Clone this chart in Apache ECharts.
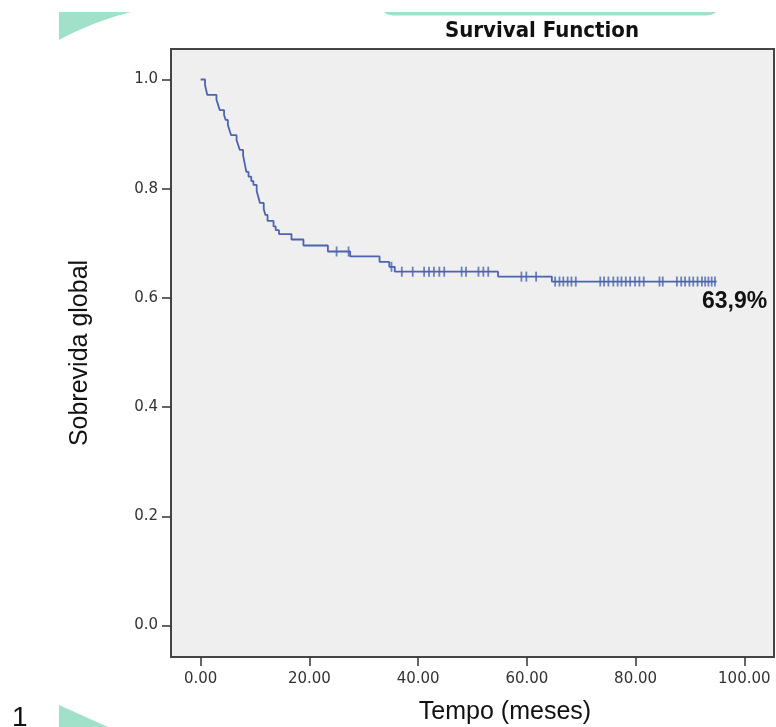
<!DOCTYPE html>
<html>
<head>
<meta charset="utf-8">
<script src="https://cdn.jsdelivr.net/npm/echarts@6/dist/echarts.min.js"></script>
<style>
html,body{margin:0;padding:0;background:#fff;}
#chart{width:776px;height:727px;}
</style>
</head>
<body>
<div id="chart"></div>
<script>
// ---- data ----
const xTicks = [0, 20, 40, 60, 80, 100];
const yTicks = [0, 0.2, 0.4, 0.6, 0.8, 1.0];
const eventTimes = [0.8, 1.0, 1.2, 2.9, 3.2, 3.5, 4.3, 4.6, 5.0, 5.3, 5.6, 6.6, 6.9, 7.2, 7.8, 8.0, 8.2, 8.4, 8.8, 9.3, 9.7, 10.3, 10.6, 10.9, 11.6, 11.9, 12.3, 13.4, 13.8, 14.4, 16.7, 18.9, 23.4, 27.5, 32.9, 34.7, 35.7, 54.7, 64.6];
const survival   = [0.990, 0.981, 0.972, 0.963, 0.954, 0.944, 0.935, 0.926, 0.917, 0.907, 0.898, 0.889, 0.880, 0.871, 0.861, 0.851, 0.841, 0.831, 0.822, 0.814, 0.807, 0.796, 0.785, 0.774, 0.763, 0.752, 0.741, 0.731, 0.724, 0.717, 0.707, 0.696, 0.685, 0.676, 0.666, 0.657, 0.648, 0.639, 0.630];
const censorTimes = [25.0, 27.2, 35.1, 37.0, 39.0, 41.1, 42.0, 42.9, 43.9, 44.8, 48.0, 48.8, 51.1, 52.0, 52.9, 59.0, 59.9, 61.7,
  65.2, 66.0, 66.7, 67.5, 68.2, 69.0, 73.5, 74.2, 75.0, 75.9, 76.7, 77.4, 78.2, 79.0, 79.9, 80.7, 81.5, 84.4, 85.0,
  87.6, 88.4, 89.1, 89.9, 90.6, 91.4, 92.2, 92.8, 93.4, 94.0, 94.6];
const followUpEnd = 94.9;
const annotationText = '63,9%';
const titleText = 'Survival Function';
const xName = 'Tempo (meses)';
const yName = 'Sobrevida global';
const slideNumber = '1';

// ---- build KM step path from the data ----
function survAt(t) {
  let s = 1;
  for (let i = 0; i < eventTimes.length; i++) { if (eventTimes[i] <= t) s = survival[i]; }
  return s;
}
const stepPts = [[0, 1]];
let prev = 1;
for (let i = 0; i < eventTimes.length; i++) {
  stepPts.push([eventTimes[i], prev]);
  stepPts.push([eventTimes[i], survival[i]]);
  prev = survival[i];
}
stepPts.push([followUpEnd, prev]);
const censorPts = censorTimes.map(t => [t, survAt(t)]);

// decorative slide shapes (quadratic curve sampled into polygon points)
function quad(p0, c, p1, n) {
  const out = [];
  for (let i = 0; i <= n; i++) {
    const u = i / n;
    out.push([(1-u)*(1-u)*p0[0] + 2*(1-u)*u*c[0] + u*u*p1[0], (1-u)*(1-u)*p0[1] + 2*(1-u)*u*c[1] + u*u*p1[1]]);
  }
  return out;
}
const cornerShape = [[59, 12]].concat(quad([131, 12], [92, 22], [59, 40], 24));
const stripShape = [[384, 12], [716, 12]].concat(quad([716, 12], [713, 15.5], [704, 15.5], 6), quad([396, 15.5], [387, 15.5], [384, 12], 6));

const blue = '#4C63B0';
const mint = '#A2E1C9';
const chart = echarts.init(document.getElementById('chart'), null, {renderer: 'canvas'});
chart.setOption({
  animation: false,
  backgroundColor: '#ffffff',
  grid: {left: 171, right: 2, top: 49, bottom: 70, show: true, backgroundColor: '#EFEFEF', borderColor: '#454545', borderWidth: 2},
  xAxis: {
    type: 'value', min: -5.46, max: 105.46,
    splitLine: {show: false},
    axisLine: {show: false, onZero: false},
    axisTick: {show: true, customValues: xTicks, length: 9, lineStyle: {color: '#333', width: 1.5}},
    axisLabel: {customValues: xTicks, formatter: v => v.toFixed(2), fontFamily: 'DejaVu Sans', fontSize: 15, color: '#333', margin: 15}
  },
  yAxis: {
    type: 'value', min: -0.0577, max: 1.0559,
    splitLine: {show: false},
    axisLine: {show: false, onZero: false},
    axisTick: {show: true, customValues: yTicks, length: 9, lineStyle: {color: '#333', width: 1.5}},
    axisLabel: {customValues: yTicks, formatter: v => v.toFixed(1), fontFamily: 'DejaVu Sans', fontSize: 15, color: '#333', margin: 13},
    name: yName, nameLocation: 'middle', nameRotate: 90, nameGap: 78,
    nameTextStyle: {fontFamily: 'Liberation Sans', fontSize: 25, color: '#111'}
  },
  series: [
    {type: 'line', data: stepPts, symbol: 'none', showSymbol: false, lineStyle: {color: blue, width: 1.8}, z: 2},
    {type: 'scatter', data: censorPts, symbol: 'rect', symbolSize: [1.8, 10], itemStyle: {color: blue}, z: 3}
  ],
  graphic: [
    {type: 'polygon', shape: {points: cornerShape}, style: {fill: mint}},
    {type: 'polygon', shape: {points: stripShape}, style: {fill: mint}},
    {type: 'polygon', shape: {points: [[59, 705], [108, 727], [59, 727]]}, style: {fill: mint}},
    {type: 'text', x: 542, y: 31, style: {text: titleText, font: 'bold 22px "DejaVu Sans Condensed", "DejaVu Sans", sans-serif', fill: '#111', align: 'center', verticalAlign: 'middle'}},
    {type: 'text', x: 505, y: 712, style: {text: xName, font: '25px "Liberation Sans", Arial, sans-serif', fill: '#111', align: 'center', verticalAlign: 'middle'}},
    {type: 'text', x: 702, y: 302, style: {text: annotationText, font: 'bold 23px "Liberation Sans", Arial, sans-serif', fill: '#111', align: 'left', verticalAlign: 'middle'}},
    {type: 'text', x: 12, y: 718, style: {text: slideNumber, font: '28px "Liberation Sans", Arial, sans-serif', fill: '#111', align: 'left', verticalAlign: 'middle'}}
  ]
});
</script>
</body>
</html>
